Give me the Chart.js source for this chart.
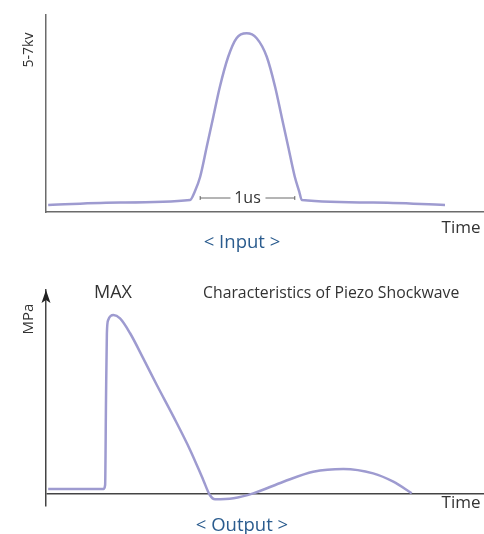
<!DOCTYPE html>
<html>
<head>
<meta charset="utf-8">
<script src="https://cdn.jsdelivr.net/npm/chart.js@4/dist/chart.umd.min.js"></script>
<style>
  html, body { margin: 0; padding: 0; background: #fff; }
  #wrap { position: relative; width: 484px; height: 534px; }
  canvas { position: absolute; left: 0; }
  #c-input { top: 0; }
  #c-output { top: 260px; }
</style>
</head>
<body>
<div id="wrap">
  <canvas id="c-input" width="484" height="260"></canvas>
  <canvas id="c-output" width="484" height="274"></canvas>
</div>
<script>
// Datos (x = tiempo relativo 0-100, y = amplitud relativa)
const inputX = [0.5, 17, 32.9, 34.0, 35.2, 36.7, 38.2, 39.7, 41.6, 43.5, 45.8, 48.1, 50.4, 52.3, 53.8, 55.3, 56.8, 57.8, 58.4, 74.7, 91.1];
const inputY = [3.6, 4.85, 6.1, 10.5, 17.9, 33.1, 48.4, 63.6, 78.8, 88.2, 90.7, 88.2, 78.8, 63.6, 48.4, 33.1, 17.9, 10.5, 6.1, 4.85, 3.6];

const outputX = [0.5, 7, 13.1, 13.5, 13.7, 13.9, 14.2, 15.4, 16.9, 19.2, 22.2, 25.3, 29.1, 32.9, 35.9, 37.4, 38.6, 42.8, 47.3, 54.2, 61.0, 67.9, 74.7, 79.3, 83.5];
const outputY = [2.4, 2.4, 2.4, 4.4, 46.1, 78.8, 85.3, 87.7, 86.1, 78.8, 66.5, 53.4, 37.9, 21.6, 6.9, -0.5, -2.6, -2.1, 0.3, 6.0, 10.9, 12.3, 10.1, 6.0, 0.3];

const pulseWidth = [35.2, 56.8]; // marca "1us"

const LINEA = "#9e9bd0";
const EJE = "#6b6b6b";
const TEXTO = "#333333";
const AZUL = "#2b5c8e";
const FUENTE = "'Open Sans', sans-serif";

const toPoints = (xs, ys) => xs.map((x, i) => ({ x, y: ys[i] }));

// Textos dibujados sobre cada grafico
const textPlugin = {
    id: "textos",
    afterDraw(chart, args, opts) {
        const ctx = chart.ctx;
        ctx.save();
        (opts.items || []).forEach((t) => {
            ctx.save();
            ctx.font = t.font;
            ctx.fillStyle = t.color || TEXTO;
            ctx.textAlign = t.align || "center";
            ctx.textBaseline = "middle";
            ctx.translate(t.x, t.y);
            if (t.rot) ctx.rotate(t.rot);
            ctx.fillText(t.text, 0, 0);
            ctx.restore();
        });
        if (opts.extra) opts.extra(chart, ctx);
        ctx.restore();
    },
};

const ejesBase = (xMin, xMax, yMin, yMax, color) => ({
    x: {
        type: "linear", min: xMin, max: xMax,
        ticks: { display: false },
        grid: { display: false, drawTicks: false },
        border: { display: true, color, width: 1.5 },
        afterFit: (s) => { s.height = 0; },
    },
    y: {
        type: "linear", min: yMin, max: yMax,
        ticks: { display: false },
        grid: { display: false, drawTicks: false },
        border: { display: true, color, width: 1.5 },
        afterFit: (s) => { s.width = 0; },
    },
});

// Grafico superior: entrada
const ejesInput = ejesBase(0, 100, 0, 100, EJE);
new Chart(document.getElementById("c-input"), {
    type: "scatter",
    data: {
        datasets: [{
            data: toPoints(inputX, inputY),
            showLine: true,
            borderColor: LINEA,
            borderWidth: 2.5,
            pointRadius: 0,
            cubicInterpolationMode: "monotone",
        }],
    },
    options: {
        responsive: false,
        animation: false,
        events: [],
        layout: { padding: { left: 46, right: 0, top: 15, bottom: 48 } },
        scales: ejesInput,
        plugins: {
            legend: { display: false },
            tooltip: { enabled: false },
            textos: {
                items: [
                    { text: "5-7kv", x: 29, y: 50, rot: -Math.PI / 2, font: `14px ${FUENTE}` },
                    { text: "Time", x: 461, y: 228, font: `17px ${FUENTE}` },
                    { text: "< Input >", x: 242, y: 243, font: `18.5px ${FUENTE}`, color: AZUL },
                ],
                extra: (chart, ctx) => {
                    const sx = chart.scales.x;
                    const x1 = sx.getPixelForValue(pulseWidth[0]);
                    const x2 = sx.getPixelForValue(pulseWidth[1]);
                    const cx = (x1 + x2) / 2;
                    const yy = 198;
                    ctx.font = `16px ${FUENTE}`;
                    ctx.fillStyle = TEXTO;
                    ctx.textAlign = "center";
                    ctx.textBaseline = "middle";
                    ctx.fillText("1us", cx, yy);
                    ctx.strokeStyle = "#444";
                    ctx.lineWidth = 0.8;
                    ctx.beginPath();
                    ctx.moveTo(x1, yy); ctx.lineTo(cx - 17, yy);
                    ctx.moveTo(cx + 18, yy); ctx.lineTo(x2, yy);
                    ctx.moveTo(x1, yy - 2); ctx.lineTo(x1, yy + 2);
                    ctx.moveTo(x2, yy - 2); ctx.lineTo(x2, yy + 2);
                    ctx.stroke();
                },
            },
        },
    },
    plugins: [textPlugin],
});

// Grafico inferior: salida (onda de choque)
const ejesOutput = ejesBase(0, 100, -5.9, 100, "#444");
ejesOutput.x.border = { display: false };
ejesOutput.y.grid = { display: true, drawTicks: false, color: "#444", lineWidth: 1.5 };
ejesOutput.y.afterBuildTicks = (axis) => { axis.ticks = [{ value: 0 }]; };

new Chart(document.getElementById("c-output"), {
    type: "scatter",
    data: {
        datasets: [{
            data: toPoints(outputX, outputY),
            showLine: true,
            borderColor: LINEA,
            borderWidth: 2.5,
            pointRadius: 0,
            cubicInterpolationMode: "monotone",
        }],
    },
    options: {
        responsive: false,
        animation: false,
        events: [],
        layout: { padding: { left: 46, right: 0, top: 30, bottom: 28 } },
        scales: ejesOutput,
        plugins: {
            legend: { display: false },
            tooltip: { enabled: false },
            textos: {
                items: [
                    { text: "MPa", x: 29, y: 59, rot: -Math.PI / 2, font: `15px ${FUENTE}` },
                    { text: "MAX", x: 113, y: 33, font: `18px ${FUENTE}` },
                    { text: "Characteristics of Piezo Shockwave", x: 203, y: 33, align: "left", font: `15.8px ${FUENTE}` },
                    { text: "Time", x: 461, y: 243, font: `17px ${FUENTE}` },
                    { text: "< Output >", x: 242, y: 266, font: `18.5px ${FUENTE}`, color: AZUL },
                ],
                extra: (chart, ctx) => {
                    // flecha del eje Y
                    const a = chart.chartArea;
                    ctx.fillStyle = "#222";
                    ctx.beginPath();
                    ctx.moveTo(a.left, a.top);
                    ctx.lineTo(a.left - 4.5, a.top + 13);
                    ctx.lineTo(a.left, a.top + 10);
                    ctx.lineTo(a.left + 4.5, a.top + 13);
                    ctx.closePath();
                    ctx.fill();
                },
            },
        },
    },
    plugins: [textPlugin],
});
</script>
</body>
</html>
